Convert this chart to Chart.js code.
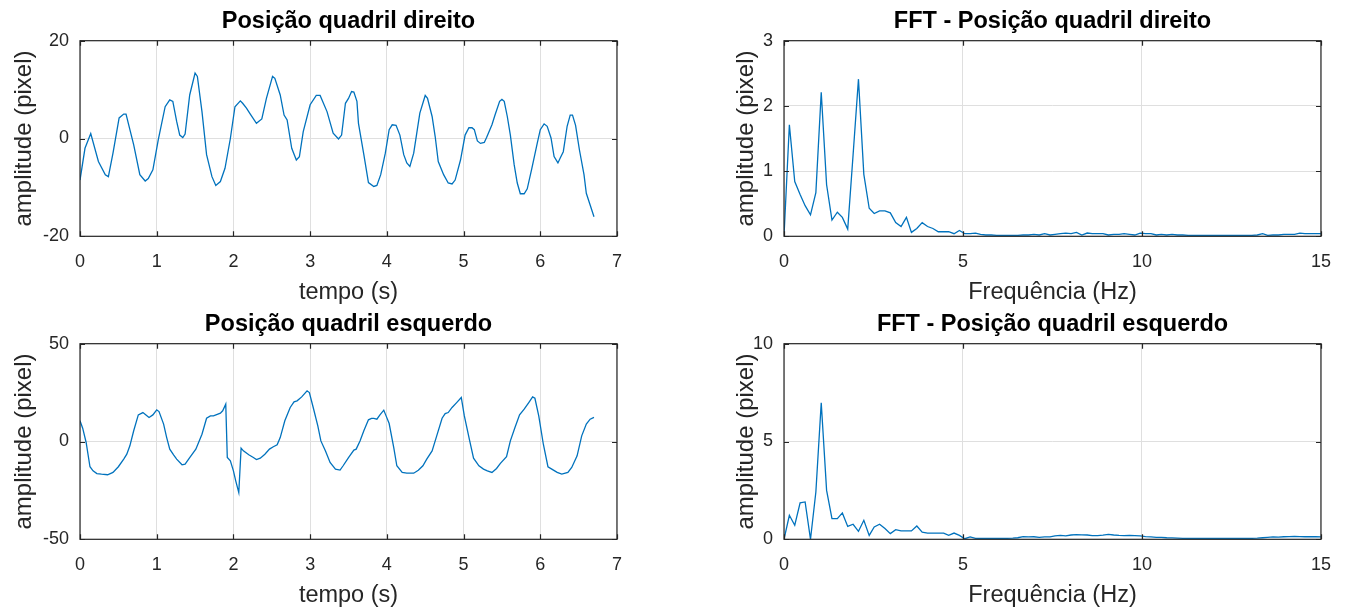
<!DOCTYPE html>
<html>
<head>
<meta charset="utf-8">
<title>Posição quadril</title>
<script src="https://cdn.jsdelivr.net/npm/chart.js@4/dist/chart.umd.min.js"></script>
<style>
  html, body { margin: 0; padding: 0; background: #fff; }
  body { width: 1347px; height: 610px; position: relative; overflow: hidden; }
  canvas { position: absolute; }
</style>
</head>
<body>
<canvas id="c1" width="637" height="310" style="left:0px;top:0px"></canvas>
<canvas id="c2" width="642" height="310" style="left:704px;top:0px"></canvas>
<canvas id="c3" width="637" height="310" style="left:0px;top:303px"></canvas>
<canvas id="c4" width="642" height="310" style="left:704px;top:303px"></canvas>
<script>
// posição do quadril direito (pixel) ao longo do tempo (s)
const tempoDireito = [0, 0.065, 0.14, 0.24, 0.33, 0.37, 0.43, 0.51, 0.57, 0.60, 0.70, 0.78, 0.85, 0.89, 0.95,
  1.02, 1.11, 1.17, 1.21, 1.26, 1.30, 1.34, 1.37, 1.43, 1.50, 1.53, 1.59, 1.65, 1.72, 1.77, 1.83, 1.89, 1.96,
  2.02, 2.09, 2.12, 2.17, 2.22, 2.30, 2.37, 2.43, 2.51, 2.54, 2.61, 2.66, 2.70, 2.76, 2.82, 2.86, 2.91,
  3.00, 3.08, 3.13, 3.22, 3.30, 3.37, 3.41, 3.46, 3.50, 3.54, 3.57, 3.61, 3.63, 3.70, 3.76, 3.83, 3.87, 3.92, 3.98,
  4.03, 4.07, 4.12, 4.17, 4.22, 4.26, 4.30, 4.35, 4.39, 4.43, 4.50, 4.53, 4.59, 4.63, 4.67, 4.74, 4.80, 4.85, 4.89, 4.96,
  5.02, 5.07, 5.11, 5.14, 5.18, 5.22, 5.27, 5.30, 5.37, 5.41, 5.47, 5.50, 5.53, 5.57, 5.61, 5.66, 5.70, 5.74, 5.79, 5.83, 5.89, 5.96,
  6.00, 6.05, 6.09, 6.14, 6.18, 6.23, 6.26, 6.30, 6.35, 6.39, 6.42, 6.46, 6.51, 6.57, 6.60, 6.65, 6.70];
const posDireito = [-8.5, -2, 1.0, -4.7, -7.4, -7.8, -3, 4.2, 5.0, 5.0, -1.3, -7.4, -8.7, -8.2, -6.4,
  -0.3, 6.5, 7.9, 7.6, 3.5, 0.7, 0.2, 0.9, 8.9, 13.4, 12.7, 5.5, -3.3, -7.8, -9.6, -8.8, -6.1, 0,
  6.5, 7.7, 7.2, 6.2, 5.0, 3.1, 4.0, 8.2, 12.7, 12.3, 8.9, 4.8, 3.8, -2, -4.4, -3.7, 1.4,
  6.9, 8.8, 8.8, 5.5, 1.1, -0.1, 0.7, 7.2, 8.2, 9.6, 9.5, 7.6, 3.1, -3.3, -9.0, -9.8, -9.6, -7.4, -3,
  1.8, 2.8, 2.7, 0.7, -3.3, -5.0, -5.7, -3, 1.1, 5.2, 8.8, 8.2, 4.5, 0.4, -4.7, -7.4, -9.1, -9.3, -8.5, -4.4,
  0.7, 2.2, 2.2, 1.8, -0.5, -1.0, -0.8, 0.2, 2.8, 4.8, 7.6, 8.0, 7.6, 4.5, 0.7, -5.4, -9.1, -11.3, -11.3, -10.3, -6.1, -1.0,
  1.8, 3.0, 2.5, 0.1, -3.7, -5.0, -4.0, -2.7, 2.5, 4.8, 4.8, 2.7, -2.3, -7.4, -11.2, -13.6, -16.0];

// posição do quadril esquerdo
const tempoEsquerdo = [0, 0.035, 0.08, 0.13, 0.17, 0.22, 0.28, 0.36, 0.43, 0.50, 0.57, 0.61, 0.65, 0.70, 0.76, 0.82, 0.86, 0.90, 0.95,
  1.00, 1.03, 1.09, 1.13, 1.17, 1.22, 1.26, 1.33, 1.37, 1.43, 1.51, 1.59, 1.65, 1.70, 1.74, 1.83, 1.86, 1.90, 1.92, 1.96,
  2.00, 2.03, 2.07, 2.10, 2.13, 2.20, 2.26, 2.30, 2.35, 2.41, 2.47, 2.52, 2.57, 2.61, 2.67, 2.74, 2.79, 2.83, 2.89, 2.96, 2.99,
  3.04, 3.10, 3.14, 3.20, 3.26, 3.33, 3.39, 3.43, 3.50, 3.57, 3.60, 3.65, 3.70, 3.76, 3.80, 3.83, 3.87, 3.91, 3.96, 3.99,
  4.03, 4.09, 4.13, 4.20, 4.26, 4.35, 4.41, 4.47, 4.52, 4.59, 4.65, 4.72, 4.76, 4.80, 4.85, 4.91, 4.97,
  5.01, 5.08, 5.13, 5.20, 5.26, 5.31, 5.37, 5.43, 5.48, 5.56, 5.61, 5.67, 5.73, 5.79, 5.85, 5.90, 5.93, 5.98,
  6.04, 6.10, 6.15, 6.22, 6.28, 6.36, 6.41, 6.48, 6.54, 6.60, 6.65, 6.70];
const posEsquerdo = [10.6, 6.8, -0.5, -12.9, -15.0, -16.4, -16.7, -17.0, -15.8, -12.9, -9.0, -6.5, -2.2, 5.5, 13.6, 14.8, 13.6, 12.3, 13.6,
  16.2, 15.3, 8.9, 2.0, -3.9, -6.8, -9.0, -11.9, -11.6, -8.2, -3.9, 3.7, 11.9, 13.1, 13.1, 14.5, 15.7, 19.1, -8.2, -9.9,
  -15.0, -20.1, -26.1, -3.4, -4.8, -6.8, -8.2, -9.2, -8.5, -6.5, -3.9, -2.7, -1.7, 2.0, 10.6, 17.4, 20.3, 20.8, 22.8, 25.9, 25.0,
  17.4, 8.0, 0.3, -4.8, -10.7, -14.1, -14.6, -12.4, -8.2, -4.4, -3.9, 0.3, 5.5, 11.1, 11.8, 11.8, 11.4, 13.6, 16.0, 13.1,
  9.2, -3.1, -12.4, -15.8, -16.2, -16.2, -14.7, -12.4, -9.0, -4.8, 2.9, 11.9, 14.3, 14.8, 17.4, 19.9, 22.5,
  13.1, 0.3, -8.5, -12.4, -14.1, -15.0, -15.8, -13.8, -11.2, -7.8, 0.3, 7.2, 13.6, 16.5, 19.9, 22.8, 22.1, 13.1,
  -1.4, -12.9, -14.1, -15.8, -16.7, -15.8, -13.3, -7.3, 2.9, 8.9, 11.4, 12.3];

// frequências da FFT (Hz)
const frequencias = [0, 0.15, 0.30, 0.45, 0.59, 0.74, 0.89, 1.04, 1.19, 1.34, 1.49, 1.63, 1.78, 1.93, 2.08, 2.23, 2.38, 2.52, 2.67, 2.82,
  2.97, 3.12, 3.27, 3.42, 3.56, 3.71, 3.86, 4.01, 4.16, 4.31, 4.46, 4.60, 4.75, 4.90, 5.05, 5.20, 5.35, 5.49, 5.64, 5.79,
  5.94, 6.09, 6.24, 6.39, 6.53, 6.68, 6.83, 6.98, 7.13, 7.28, 7.43, 7.57, 7.72, 7.87, 8.02, 8.17, 8.32, 8.47, 8.61, 8.76,
  8.91, 9.06, 9.21, 9.36, 9.50, 9.65, 9.80, 9.95, 10.10, 10.25, 10.40, 10.54, 10.69, 10.84, 10.99, 11.14, 11.29, 11.44, 11.58, 11.73,
  11.88, 12.03, 12.18, 12.33, 12.47, 12.62, 12.77, 12.92, 13.07, 13.22, 13.37, 13.51, 13.66, 13.81, 13.96, 14.11, 14.26, 14.41, 14.55, 14.70,
  14.85, 15.00];
const fftDireito = [0, 1.71, 0.84, 0.64, 0.47, 0.33, 0.67, 2.21, 0.79, 0.25, 0.37, 0.29, 0.11, 1.25, 2.41, 0.95, 0.43, 0.35, 0.39, 0.39,
  0.36, 0.21, 0.15, 0.29, 0.06, 0.12, 0.21, 0.15, 0.12, 0.07, 0.07, 0.07, 0.04, 0.09, 0.04, 0.04, 0.05, 0.03, 0.02, 0.02,
  0.015, 0.015, 0.015, 0.015, 0.015, 0.02, 0.02, 0.03, 0.02, 0.04, 0.02, 0.03, 0.04, 0.05, 0.04, 0.06, 0.02, 0.05, 0.04, 0.04,
  0.04, 0.02, 0.03, 0.03, 0.04, 0.03, 0.02, 0.05, 0.04, 0.04, 0.02, 0.03, 0.02, 0.03, 0.02, 0.02, 0.015, 0.015, 0.015, 0.015,
  0.015, 0.015, 0.015, 0.015, 0.015, 0.015, 0.015, 0.015, 0.015, 0.02, 0.04, 0.015, 0.02, 0.02, 0.03, 0.03, 0.03, 0.05, 0.04, 0.04,
  0.04, 0.04];
const fftEsquerdo = [0, 1.23, 0.72, 1.86, 1.91, 0, 2.42, 6.98, 2.5, 1.06, 1.06, 1.35, 0.66, 0.77, 0.41, 0.97, 0.2, 0.63, 0.77, 0.55,
  0.29, 0.49, 0.43, 0.43, 0.43, 0.68, 0.37, 0.32, 0.32, 0.32, 0.32, 0.2, 0.32, 0.2, 0.03, 0.12, 0.05, 0.04, 0.04, 0.04,
  0.04, 0.04, 0.05, 0.06, 0.08, 0.14, 0.12, 0.13, 0.10, 0.12, 0.12, 0.18, 0.2, 0.18, 0.22, 0.24, 0.23, 0.22, 0.19, 0.19,
  0.21, 0.25, 0.22, 0.2, 0.19, 0.2, 0.19, 0.17, 0.14, 0.12, 0.1, 0.1, 0.08, 0.07, 0.06, 0.05, 0.04, 0.04, 0.04, 0.04,
  0.04, 0.04, 0.04, 0.04, 0.04, 0.04, 0.04, 0.04, 0.05, 0.06, 0.08, 0.1, 0.12, 0.11, 0.13, 0.14, 0.15, 0.14, 0.13, 0.14,
  0.13, 0.12];

Chart.defaults.font.family = '"Liberation Sans", Arial, Helvetica, sans-serif';
Chart.defaults.color = '#262626';
Chart.defaults.animation = false;

const AZUL = '#0072BD';
const GRADE = '#dfdfdf';
const EIXO = '#262626';

// caixa em volta do gráfico + marcas de escala para dentro, como no MATLAB
const moldura = {
  id: 'moldura',
  afterDraw(chart) {
    const { ctx, chartArea: a, scales: { x, y } } = chart;
    const len = 5;
    ctx.save();
    ctx.strokeStyle = EIXO;
    ctx.lineWidth = 1.2;
    ctx.beginPath();
    x.ticks.forEach(t => {
      const px = Math.round(x.getPixelForValue(t.value)) + 0.5;
      ctx.moveTo(px, a.bottom); ctx.lineTo(px, a.bottom - len);
      ctx.moveTo(px, a.top); ctx.lineTo(px, a.top + len);
    });
    y.ticks.forEach(t => {
      const py = Math.round(y.getPixelForValue(t.value)) + 0.5;
      ctx.moveTo(a.left, py); ctx.lineTo(a.left + len, py);
      ctx.moveTo(a.right, py); ctx.lineTo(a.right - len, py);
    });
    ctx.stroke();
    ctx.strokeRect(a.left, a.top, a.right - a.left, a.bottom - a.top);
    ctx.restore();
  }
};

function subplot(id, titulo, xs, ys, opts) {
  return new Chart(document.getElementById(id), {
    type: 'line',
    data: {
      datasets: [{
        data: xs.map((v, i) => ({ x: v, y: ys[i] })),
        borderColor: AZUL,
        borderWidth: 1.3,
        pointRadius: 0,
        tension: 0,
        fill: false
      }]
    },
    options: {
      responsive: false,
      layout: { padding: { left: 0, right: 20, top: 0, bottom: 0 } },
      plugins: {
        legend: { display: false },
        tooltip: { enabled: false },
        title: {
          display: true,
          fullSize: false,
          text: titulo,
          color: '#000',
          font: { size: 23.5, weight: 'bold' },
          padding: { top: 7, bottom: 5.5 }
        }
      },
      scales: {
        x: {
          type: 'linear',
          min: opts.xmin, max: opts.xmax,
          afterFit: s => { s.height = 73.7; },
          ticks: { stepSize: opts.xstep, font: { size: 18 }, padding: 15, maxRotation: 0, color: EIXO },
          grid: { color: GRADE, drawTicks: false },
          border: { display: false },
          title: { display: true, text: opts.xlabel, font: { size: 23.5 }, color: EIXO, padding: { top: 0, bottom: 3 } }
        },
        y: {
          type: 'linear',
          min: opts.ymin, max: opts.ymax,
          afterFit: s => { s.width = 80; },
          ticks: { stepSize: opts.ystep, font: { size: 18 }, padding: 11, color: EIXO },
          grid: { color: GRADE, drawTicks: false },
          border: { display: false },
          title: { display: true, text: 'amplitude (pixel)', font: { size: 24 }, color: EIXO, padding: { top: opts.ypad, bottom: 0 } }
        }
      }
    },
    plugins: [moldura]
  });
}

subplot('c1', 'Posição quadril direito', tempoDireito, posDireito,
  { xmin: 0, xmax: 7, xstep: 1, ymin: -20, ymax: 20, ystep: 20, xlabel: 'tempo (s)', ypad: 9.5 });
subplot('c2', 'FFT - Posição quadril direito', frequencias, fftDireito,
  { xmin: 0, xmax: 15, xstep: 5, ymin: 0, ymax: 3, ystep: 1, xlabel: 'Frequência (Hz)', ypad: 27.5 });
subplot('c3', 'Posição quadril esquerdo', tempoEsquerdo, posEsquerdo,
  { xmin: 0, xmax: 7, xstep: 1, ymin: -50, ymax: 50, ystep: 50, xlabel: 'tempo (s)', ypad: 9.5 });
subplot('c4', 'FFT - Posição quadril esquerdo', frequencias, fftEsquerdo,
  { xmin: 0, xmax: 15, xstep: 5, ymin: 0, ymax: 10, ystep: 5, xlabel: 'Frequência (Hz)', ypad: 27.5 });
</script>
</body>
</html>
